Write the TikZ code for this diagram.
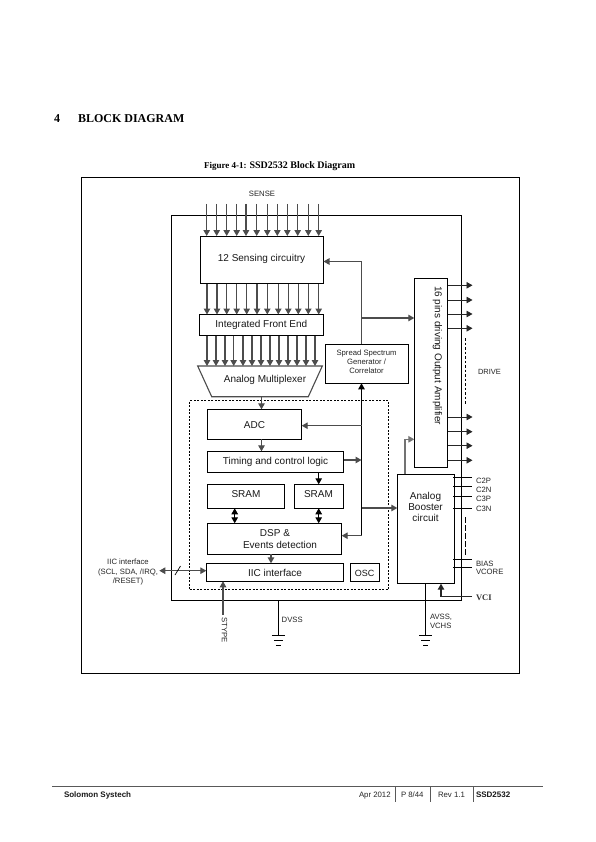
\documentclass[tikz,border=0pt]{standalone}
\usepackage{fontspec}
\setmainfont{Liberation Sans}
\newfontfamily\serifface{Liberation Serif}
\usetikzlibrary{arrows.meta,calc}
\newcommand{\fsz}[1]{\fontsize{#1}{#1}\selectfont}
\newcommand{\blk}[6][]{%
  \pgfmathsetmacro{\bw}{#5-#3}\pgfmathsetmacro{\bh}{#6-#4}%
  \pgfmathsetmacro{\bx}{(#5+#3)/2}\pgfmathsetmacro{\by}{(#6+#4)/2}%
  \node[block,minimum width=\bw pt,minimum height=\bh pt,#1] (#2) at (\bx,\by) {};}
\tikzset{
  block/.style={draw=black,line width=0.9pt,inner sep=0pt,outer sep=0pt,fill=none},
  frame/.style={draw=black,line width=0.8pt},
  wire/.style={draw=black!70,line width=1.1pt},
  arr/.style={wire,-{Triangle[length=6pt,width=6.5pt]}},
  dbl/.style={wire,{Triangle[length=6pt,width=6.5pt]}-{Triangle[length=6pt,width=6.5pt]}},
  dashline/.style={draw=black,line width=0.8pt,dash pattern=on 2pt off 1.5pt},
  blocktext/.style={inner sep=0pt,outer sep=0pt,anchor=mid,align=center,font=\fsz{10},text=black!90,yshift=-1pt},
  midtext/.style={inner sep=0pt,outer sep=0pt,anchor=mid,align=center,font=\fsz{7.7},text=black!85,yshift=-0.5pt},
  small/.style={inner sep=0pt,outer sep=0pt,anchor=mid west,font=\fsz{7.7},text=black!85},
  smallc/.style={inner sep=0pt,outer sep=0pt,anchor=mid,font=\fsz{7.7},text=black!85},
  foot/.style={inner sep=0pt,outer sep=0pt,anchor=mid west,font=\fsz{7.8},text=black!85},
  footb/.style={inner sep=0pt,outer sep=0pt,anchor=mid west,font=\fsz{8}\bfseries,text=black!90},
  heading/.style={inner sep=0pt,outer sep=0pt,anchor=mid west,font=\serifface\fsz{12}\bfseries},
}
\begin{document}
\begin{tikzpicture}[x=1pt,y=-1pt]
\useasboundingbox[fill=white] (0,0) rectangle (595,842);
% headings
\node[heading] (hnum) at (54,119.5) {4};
\node[heading] (htitle) at (78,119.5) {BLOCK DIAGRAM};
\node[heading,font=\serifface\fsz{9}\bfseries] (cap) at (204,165.5) {Figure 4-1: {\fsz{10}SSD2532 Block Diagram}};
% frames
\blk[frame]{outer}{81}{177.5}{519.5}{673}
\blk[frame]{inner}{171.5}{215}{461}{600.5}
\blk[dashline]{dsh}{189.5}{400.5}{388.5}{589.5}
% blocks
\blk{sens}{200.5}{236}{323.5}{283.5}
\blk{ife}{199.5}{314.5}{323.5}{335.5}
\blk[draw=none]{mux}{197.7}{366}{322.3}{396.7}
\draw[block,draw=black!70,line width=1.1pt] (mux.north west) -- (mux.north east) -- ($(mux.south east)+(-14,0)$) -- ($(mux.south west)+(14,0)$) -- cycle;
\blk{adc}{207.3}{409.3}{301.7}{439.3}
\blk{tim}{207.3}{451.3}{343.5}{472.3}
\blk{sra}{207.3}{484.3}{284.7}{508.3}
\blk{srb}{294.3}{484.3}{343}{508.3}
\blk{dsp}{207.3}{523.3}{341.7}{554.3}
\blk{iic}{206.3}{563.3}{343.5}{581.3}
\blk{osc}{350.3}{563.3}{379.7}{581.7}
\blk{spr}{325.3}{344.3}{408.7}{383.3}
\blk{amp}{414.3}{278.3}{447.7}{467.3}
\blk{boo}{397.3}{474.3}{454.7}{583.7}
% block labels
\node[blocktext] (tsens) at (261.5,257.5) {12 Sensing circuitry};
\node[blocktext] (tife) at (261.3,323.5) {Integrated Front End};
\node[blocktext] (tmux) at (265,378.5) {Analog Multiplexer};
\node[blocktext] (tadc) at (254.5,424.5) {ADC};
\node[blocktext] (ttim) at (275.5,460.5) {Timing and control logic};
\node[blocktext] (tsra) at (246,494) {SRAM};
\node[blocktext] (tsrb) at (318.5,493.5) {SRAM};
\node[blocktext] (tdsp1) at (275,533) {DSP \&};
\node[blocktext] (tdsp2) at (280,544.5) {Events detection};
\node[blocktext] (tiic) at (275,572.5) {IIC interface};
\node[blocktext,font=\fsz{9}] (tosc) at (364.7,572.5) {OSC};
\node[midtext] (tspr1) at (366.5,352.5) {Spread Spectrum};
\node[midtext] (tspr2) at (366.5,361.5) {Generator /};
\node[midtext] (tspr3) at (366.5,370.5) {Correlator};
\node[blocktext,rotate=-90,yshift=1pt] (tamp) at (436.5,354.5) {16 pins driving Output Amplifier};
\node[blocktext] (tb1) at (425.5,495.5) {Analog};
\node[blocktext] (tb2) at (425.5,506.5) {Booster};
\node[blocktext] (tb3) at (425.5,518) {circuit};
% sense arrows
\foreach \x [count=\i] in {206.7,216.7,226.7,236.7,246,256.7,267.3,277.3,287.3,297.7,308.3,318.7}{
  \coordinate (sn\i) at (\x,204);
  \draw[arr] (sn\i) -- (sn\i |- sens.north);
}
\foreach \x in {207,217,226.7,236.7,246.7,257,267.3,278.3,288.3,298.3,308.3,318.7}{
  \draw[arr] (\x,0 |- sens.south) -- (\x,0 |- ife.north);
}
\foreach \x in {207,216,225,233.7,243,252,261,270,279,288,297,306,315}{
  \draw[arr] (\x,0 |- ife.south) -- (\x,0 |- mux.north);
}
% control path
\coordinate (busA) at (361.5,0);
\coordinate (lvS) at (0,261.5);
\draw[arr] (busA |- spr.north) -- (busA |- lvS) -- (sens.east |- lvS);
\coordinate (lvA) at (0,318);
\draw[arr] (busA |- lvA) -- (amp.west |- lvA);
\coordinate (lvD) at (0,535.7);
\draw[arr,draw=black] (busA |- lvD) -- (busA |- spr.south);
\draw[arr] (busA |- lvD) -- (dsp.east |- lvD);
\coordinate (lvC) at (0,425.7);
\draw[arr] (busA |- lvC) -- (adc.east |- lvC);
\coordinate (lvT) at (0,460);
\draw[arr] (tim.east |- lvT) -- (busA |- lvT);
\coordinate (lvB) at (0,508);
\draw[arr] (busA |- lvB) -- (boo.west |- lvB);
% vertical links
\coordinate (xmux) at (261.5,0);
\draw[arr] (xmux |- mux.south) -- (xmux |- adc.north);
\draw[arr] (xmux |- adc.south) -- (xmux |- tim.north);
\coordinate (xsb) at (318.7,0);
\draw[arr,draw=black] (xsb |- tim.south) -- (xsb |- srb.north);
\coordinate (xsa) at (234.7,0);
\draw[dbl,draw=black] (xsa |- sra.south) -- (xsa |- dsp.north);
\draw[dbl,draw=black] (xsb |- srb.south) -- (xsb |- dsp.north);
\coordinate (xdi) at (271,0);
\draw[arr] (xdi |- dsp.south) -- (xdi |- iic.north);
% booster to amp
\coordinate (xba) at (405,0);
\coordinate (lvBA) at (0,439.3);
\draw[arr,draw=black!55,line width=1.2pt] (xba |- boo.north) -- (xba |- lvBA) -- (amp.west |- lvBA);
% outputs
\coordinate (xout) at (472.5,0);
\foreach \y in {285.3,300,314,328.3,417,431.7,445.7,460.3}{
  \coordinate (o) at (0,\y);
  \draw[arr,draw=black!85,line width=0.9pt] (amp.east |- o) -- (xout |- o);
}
\draw[draw=black,line width=0.7pt,dash pattern=on 2.5pt off 2pt] (465.3,338) -- (465.3,404);
\node[small,font=\fsz{7.5}] (ldrive) at (478,371.5) {DRIVE};
% booster pins
\coordinate (xpin) at (472,0);
\foreach \y/\t/\ly in {477.7/C2P/480.5,486.3/C2N/489.5,496.3/C3P/498.5,508.3/C3N/508.5}{
  \coordinate (p) at (0,\y);
  \draw[draw=black,line width=0.7pt] (453,\y) -- (xpin |- p);
  \node[small] (l\t) at (476,\ly) {\t};
}
\draw[draw=black,line width=0.7pt,dash pattern=on 6pt off 2pt] (465.7,517) -- (465.7,556);
\foreach \y/\t/\ly in {559.3/BIAS/563.5,567.3/VCORE/572.3}{
  \coordinate (p) at (0,\y);
  \draw[draw=black,line width=0.7pt] (453,\y) -- (xpin |- p);
  \node[small] (l\t) at (476,\ly) {\t};
}
% VCI
\node[small,font=\serifface\fsz{8.5}\bfseries,text=black!80] (lvci) at (476,597.5) {VCI};
\coordinate (vciend) at (472,596.7);
\coordinate (xvci) at (441,0);
\draw[arr,draw=black!85] (vciend) -- (xvci |- vciend) -- (xvci |- boo.south);
% AVSS ground
\coordinate (gA) at (425.7,635);
\draw[draw=black,line width=0.7pt] (gA |- boo.south) -- (gA);
\draw[black,line width=0.7pt] ($(gA)+(-6.5,0)$) -- ($(gA)+(6.5,0)$) ($(gA)+(-4.5,5)$) -- ($(gA)+(4.5,5)$) ($(gA)+(-2.5,10)$) -- ($(gA)+(2.5,10)$);
\node[small] (lavss) at (430,616.5) {AVSS,};
\node[small] (lvchs) at (430,625.5) {VCHS};
% DVSS ground
\coordinate (gD) at (278.3,635.7);
\draw[draw=black,line width=0.7pt] (gD |- inner.south) -- (gD);
\draw[black,line width=0.7pt] ($(gD)+(-6.5,0)$) -- ($(gD)+(6.5,0)$) ($(gD)+(-4.5,5)$) -- ($(gD)+(4.5,5)$) ($(gD)+(-2.5,10)$) -- ($(gD)+(2.5,10)$);
\node[small] (ldvss) at (281.7,619.5) {DVSS};
% STYPE
\coordinate (st) at (223,615);
\draw[arr] (st) -- (st |- iic.south);
\node[smallc,rotate=-90] (lst) at (224.5,630) {STYPE};
% IIC
\node[smallc] (li1) at (128,561.5) {IIC interface};
\node[smallc] (li2) at (128,571.5) {(SCL, SDA, /IRQ,};
\node[smallc] (li3) at (128,581) {/RESET)};
\coordinate (iicl) at (159.3,570.7);
\draw[dbl] (iicl) -- (iic.west |- iicl);
\draw[draw=black,line width=0.7pt] (175,575) -- (180.5,566);
\node[smallc] (lsense) at (262,193.5) {SENSE};
% footer
\coordinate (fl) at (52,786);
\coordinate (fr) at (543,786);
\draw[draw=black!65,line width=0.8pt] (fl) -- (fr);
\node[footb] (fsol) at (64,794.5) {Solomon Systech};
\node[foot] (fapr) at (359,795) {Apr 2012};
\node[foot] (fp) at (401,795) {P 8/44};
\node[foot] (frev) at (438,795) {Rev 1.1};
\node[footb] (fssd) at (476,794.5) {SSD2532};
\foreach \x in {395,430,473}{
  \draw[draw=black!65,line width=0.7pt] (\x,786) -- (\x,802);
}
\end{tikzpicture}
\end{document}
